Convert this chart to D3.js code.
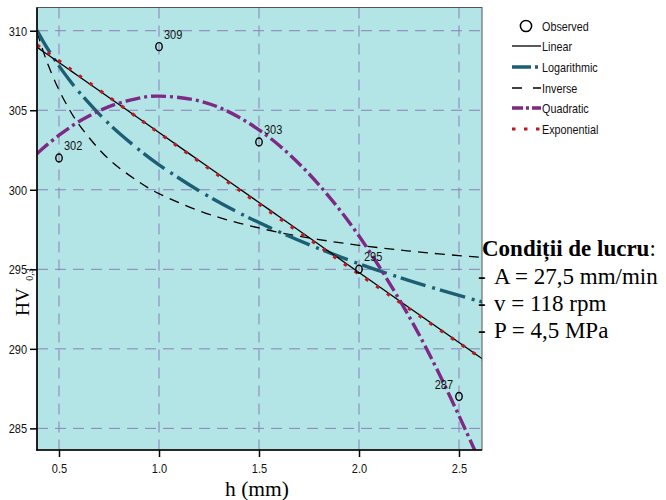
<!DOCTYPE html>
<html>
<head>
<meta charset="utf-8">
<script src="https://cdn.jsdelivr.net/npm/d3@7"></script>
<style>
  body { margin: 0; background: #ffffff; }
  svg { display: block; }
</style>
</head>
<body>
<script>
// ---------- data ----------
const hObs  = [0.5, 1.0, 1.5, 2.0, 2.5];
const hvObs = [302, 309, 303, 295, 287];
const obsLabels = ["302", "309", "303", "295", "287"];

const hFit = [0.39, 0.42, 0.45, 0.5, 0.55, 0.6, 0.7, 0.8, 0.9, 1.0, 1.2, 1.4, 1.6, 1.8, 2.0, 2.2, 2.4, 2.6, 2.615];
const linearFit = [308.97, 308.70, 308.44, 308.00, 307.56, 307.12, 306.24, 305.36, 304.48, 303.60, 301.84, 300.08, 298.32, 296.56, 294.80, 293.04, 291.28, 289.52, 289.39];
const logFit    = [310.02, 309.35, 308.73, 307.79, 306.93, 306.15, 304.77, 303.57, 302.52, 301.57, 299.94, 298.55, 297.36, 296.30, 295.35, 294.50, 293.72, 293.00, 292.95];
const invFit    = [309.94, 308.75, 307.72, 306.27, 305.09, 304.10, 302.55, 301.39, 300.49, 299.76, 298.68, 297.91, 297.32, 296.87, 296.51, 296.22, 295.97, 295.76, 295.75];
const quadFit   = [302.27, 302.61, 302.93, 303.43, 303.88, 304.29, 304.96, 305.45, 305.76, 305.89, 305.59, 304.56, 302.80, 300.31, 297.09, 293.13, 288.45, 283.03, 282.59];
const expFit    = [309.11, 308.84, 308.56, 308.11, 307.65, 307.19, 306.28, 305.38, 304.47, 303.57, 301.78, 299.99, 298.22, 296.46, 294.70, 292.96, 291.23, 289.51, 289.38];

const xTicks = [0.5, 1.0, 1.5, 2.0, 2.5];
const yTicks = [285, 290, 295, 300, 305, 310];

const legendNames = ["Observed", "Linear", "Logarithmic", "Inverse", "Quadratic", "Exponential"];
const conditionsTitle = "Condiții de lucru";
const conditionsLines = ["A = 27,5 mm/min", "v = 118 rpm", "P = 4,5 MPa"];

// ---------- layout ----------
const W = 666, H = 500;
const L = 37, R = 482, T = 7.5, B = 450;
const SANS = "'Liberation Sans', Arial, sans-serif";
const SERIF = "'Liberation Serif', 'Times New Roman', serif";

const x = d3.scaleLinear().domain([0.39, 2.615]).range([L, R]);
const y = d3.scaleLinear().domain([283.64, 311.46]).range([B, T]);

const svg = d3.select("body").append("svg").attr("width", W).attr("height", H);

svg.append("defs").append("clipPath").attr("id", "plotclip")
  .append("rect").attr("x", L).attr("y", T).attr("width", R - L).attr("height", B - T);

// background
svg.append("rect").attr("x", L).attr("y", T).attr("width", R - L).attr("height", B - T)
  .attr("fill", "#b3e5e7");

// grid
const grid = svg.append("g").attr("clip-path", "url(#plotclip)");
grid.selectAll("line.h").data(yTicks).join("line")
  .attr("x1", L).attr("x2", R).attr("y1", d => y(d)).attr("y2", d => y(d))
  .attr("stroke", "#8a80b8").attr("stroke-width", 1).attr("stroke-dasharray", "11,7");
grid.selectAll("line.v").data(xTicks).join("line")
  .attr("y1", T).attr("y2", B).attr("x1", d => x(d)).attr("x2", d => x(d))
  .attr("stroke", "#8a80b8").attr("stroke-width", 1).attr("stroke-dasharray", "11,7");

// curves
const curves = svg.append("g").attr("clip-path", "url(#plotclip)");
const line = d3.line().x(d => x(d[0])).y(d => y(d[1])).curve(d3.curveNatural);
const zipFit = vals => hFit.map((h, i) => [h, vals[i]]);

const series = [
  { vals: invFit,    color: "#000000", width: 1.3, dash: "10,7" },
  { vals: logFit,    color: "#1c5f74", width: 3.4, dash: "26,7,3,5" },
  { vals: linearFit, color: "#000000", width: 1.3, dash: null },
  { vals: quadFit,   color: "#7e2a84", width: 3.4, dash: "15,4,3,4" },
  { vals: expFit,    color: "#b81c22", width: 3.2, dash: "3.5,9.5" }
];
series.forEach(s => {
  curves.append("path").datum(zipFit(s.vals))
    .attr("d", line).attr("fill", "none")
    .attr("stroke", s.color).attr("stroke-width", s.width)
    .attr("stroke-dasharray", s.dash);
});

// frame
svg.append("rect").attr("x", L).attr("y", T).attr("width", R - L).attr("height", B - T)
  .attr("fill", "none").attr("stroke", "#555").attr("stroke-width", 1);

// axes
const yAxis = svg.append("g").attr("transform", `translate(${L},0)`)
  .call(d3.axisLeft(y).tickValues(yTicks).tickSize(7).tickSizeOuter(0).tickFormat(d3.format("d")));
const xAxis = svg.append("g").attr("transform", `translate(0,${B})`)
  .call(d3.axisBottom(x).tickValues(xTicks).tickSize(7).tickSizeOuter(0).tickFormat(d3.format(".1f")));
[yAxis, xAxis].forEach(a => {
  a.select(".domain").remove();
  a.selectAll(".tick line").attr("stroke", "#000").attr("stroke-width", 1.5);
  a.selectAll("text").attr("font-family", SANS).attr("font-size", 12.5).attr("fill", "#111");
});
yAxis.selectAll("text").attr("x", -10 / 0.88).attr("dy", "0.36em").attr("transform", "scale(0.88,1)");
xAxis.selectAll("text").attr("y", 23.5).attr("dy", 0).attr("transform", "scale(0.88,1)");
// axis lines
svg.append("line").attr("x1", L).attr("x2", L).attr("y1", T).attr("y2", B + 0.75)
  .attr("stroke", "#000").attr("stroke-width", 1.6);
svg.append("line").attr("x1", L - 0.75).attr("x2", R).attr("y1", B).attr("y2", B)
  .attr("stroke", "#000").attr("stroke-width", 1.6);

// narrow text helper
function ntext(g, px, py, str, size, sx, anchor) {
  return g.append("text")
    .attr("transform", `translate(${px},${py}) scale(${sx},1)`)
    .attr("font-family", SANS).attr("font-size", size)
    .attr("text-anchor", anchor || "start").attr("fill", "#111").text(str);
}

// observed points
const pts = svg.append("g");
hObs.forEach((h, i) => {
  pts.append("ellipse").attr("cx", x(h)).attr("cy", y(hvObs[i]))
    .attr("rx", 3.2).attr("ry", 4).attr("fill", "none")
    .attr("stroke", "#000").attr("stroke-width", 1.4);
  const last = i === hObs.length - 1;
  ntext(pts, last ? x(h) - 6 : x(h) + 5, y(hvObs[i]) - 8, obsLabels[i], 12.5, 0.88, last ? "end" : "start");
});

// legend
const lg = svg.append("g");
const rowY = [26, 46, 67, 88, 108, 129];
lg.append("circle").attr("cx", 526).attr("cy", rowY[0]).attr("r", 5.6)
  .attr("fill", "none").attr("stroke", "#000").attr("stroke-width", 1.5);
const legendStyles = [
  null,
  { color: "#000000", width: 1.3, dash: null },
  { color: "#1c5f74", width: 3.4, dash: "19,4,3,10" },
  { color: "#000000", width: 1.3, dash: "10,11" },
  { color: "#7e2a84", width: 3.4, dash: "11,3,3,3" },
  { color: "#b81c22", width: 3.2, dash: "3.5,8.5" }
];
legendStyles.forEach((s, i) => {
  if (!s) return;
  lg.append("line").attr("x1", 512).attr("x2", 541).attr("y1", rowY[i]).attr("y2", rowY[i])
    .attr("stroke", s.color).attr("stroke-width", s.width).attr("stroke-dasharray", s.dash);
});
legendNames.forEach((n, i) => {
  ntext(lg, 542, rowY[i] + 4.6, n, 13, 0.83, "start");
});

// conditions text
const tb = svg.append("g").attr("font-family", SERIF).attr("fill", "#000");
const t0 = tb.append("text").attr("x", 482).attr("y", 256).attr("font-size", 23);
t0.append("tspan").attr("font-weight", "bold").text(conditionsTitle);
t0.append("tspan").text(":");
conditionsLines.forEach((s, i) => {
  const yy = 283.5 + i * 27.4;
  tb.append("text").attr("x", 478).attr("y", yy).attr("font-size", 23).text("-");
  tb.append("text").attr("x", 494).attr("y", yy).attr("font-size", 23).text(s);
});

// axis titles
svg.append("text").attr("x", 257).attr("y", 496).attr("text-anchor", "middle")
  .attr("font-family", SERIF).attr("font-size", 21.5).attr("fill", "#000").text("h (mm)");
const yl = svg.append("text").attr("transform", "translate(29,316) rotate(-90)")
  .attr("font-family", SERIF).attr("font-size", 19.5).attr("fill", "#000");
yl.append("tspan").text("HV");
yl.append("tspan").attr("font-size", 10).attr("dx", 7).attr("dy", 4).text("0,3");
</script>
</body>
</html>
